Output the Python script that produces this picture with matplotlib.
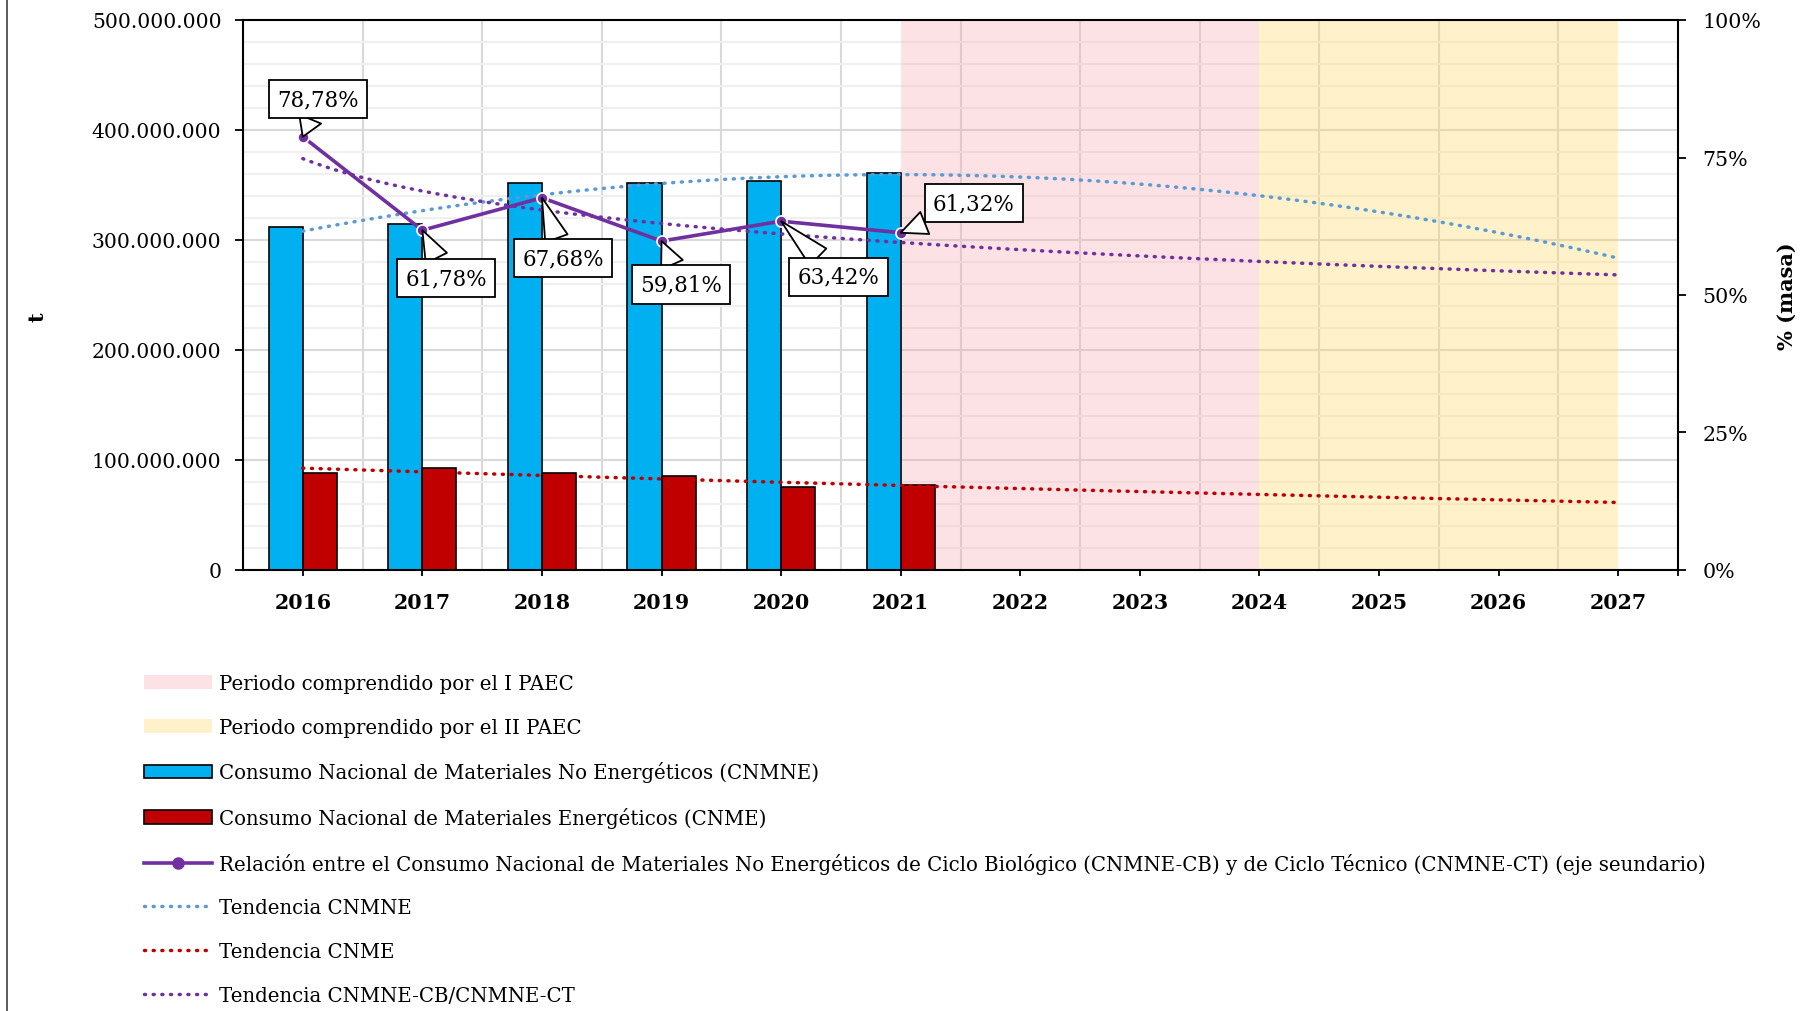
import numpy as np
import matplotlib
matplotlib.use("Agg")
import matplotlib.pyplot as plt
from matplotlib.ticker import MultipleLocator, FuncFormatter
from matplotlib.lines import Line2D

plt.rcParams['font.family'] = ['DejaVu Serif']
plt.rcParams['font.size'] = 15

# ---------------- data ----------------
years = ['2016', '2017', '2018', '2019', '2020', '2021',
         '2022', '2023', '2024', '2025', '2026', '2027']
obs_years = ['2016', '2017', '2018', '2019', '2020', '2021']
cnmne = [312.1e6, 314.5e6, 352.0e6, 351.5e6, 353.3e6, 360.9e6]
cnme = [88.2e6, 93.1e6, 87.9e6, 85.2e6, 75.8e6, 77.3e6]
ratio = [78.78, 61.78, 67.68, 59.81, 63.42, 61.32]
ratio_labels = ['78,78%', '61,78%', '67,68%', '59,81%', '63,42%', '61,32%']
paec1 = ('2021', '2024')
paec2 = ('2024', '2027')

# label box centres (layout), in (category index, % on secondary axis)
label_pos = [(0.13, 85.6), (1.20, 53.1), (2.18, 56.7),
             (3.16, 51.9), (4.48, 53.3), (5.61, 66.7)]

leg_labels = [
    'Periodo comprendido por el I PAEC',
    'Periodo comprendido por el II PAEC',
    'Consumo Nacional de Materiales No Energéticos (CNMNE)',
    'Consumo Nacional de Materiales Energéticos (CNME)',
    'Relación entre el Consumo Nacional de Materiales No Energéticos de Ciclo Biológico (CNMNE-CB) y de Ciclo Técnico (CNMNE-CT) (eje seundario)',
    'Tendencia CNMNE',
    'Tendencia CNME',
    'Tendencia CNMNE-CB/CNMNE-CT',
]

# ---------------- colours ----------------
C_BLUE = '#00B0F0'
C_RED = '#C00000'
C_PURPLE = '#7030A0'
C_TBLUE = '#5B9BD5'

# ---------------- figure ----------------
W, H = 1805, 1012
fig = plt.figure(figsize=(W / 100, H / 100), dpi=100)
ax = fig.add_axes([243 / W, 1 - 571 / H, (1678 - 243) / W, (571 - 21) / H])

x_all = np.arange(len(years))
x_obs = np.array([years.index(y) for y in obs_years])

ax.set_xlim(-0.5, len(years) - 0.5)
ax.set_ylim(0, 500e6)

# grid
ax.yaxis.set_major_locator(MultipleLocator(100e6))
ax.yaxis.set_minor_locator(MultipleLocator(20e6))
ax.grid(which='major', axis='y', color='#D9D9D9', lw=1.5, zorder=0.2)
ax.grid(which='minor', axis='y', color='#F0F0F0', lw=1.5, zorder=0.1)
ax.set_axisbelow(True)
for b in np.arange(0.5, len(years) - 1):
    ax.axvline(b, color='#D9D9D9', lw=1.5, zorder=0.2)

# shaded periods
sp1 = ax.axvspan(years.index(paec1[0]), years.index(paec1[1]),
                 facecolor='#F7A1AB', alpha=0.3, lw=0, zorder=0.8)
sp2 = ax.axvspan(years.index(paec2[0]), years.index(paec2[1]),
                 facecolor='#FFD966', alpha=0.35, lw=0, zorder=0.8)

# bars
bw = 0.285
b1 = ax.bar(x_obs - bw / 2, cnmne, width=bw, color=C_BLUE, edgecolor='black',
            lw=1.2, zorder=2)
b2 = ax.bar(x_obs + bw / 2, cnme, width=bw, color=C_RED, edgecolor='black',
            lw=1.2, zorder=2)

# trend lines (fitted on the observed data, like spreadsheet trendlines)
xt = np.linspace(0, len(years) - 1, 200)
p_blue = np.polyfit(x_obs, cnmne, 2)
t_blue = np.polyval(p_blue, xt)
p_red = np.polyfit(x_obs, np.log(cnme), 1)
t_red = np.exp(np.polyval(p_red, xt))
p_pur = np.polyfit(np.log(x_obs + 1), ratio, 1)
t_pur = np.polyval(p_pur, np.log(xt + 1))

dot = (0, (0.3, 2.2))
lt1, = ax.plot(xt, t_blue, color=C_TBLUE, lw=2.5, ls=dot,
               dash_capstyle='round', zorder=3)
lt2, = ax.plot(xt, t_red, color=C_RED, lw=2.5, ls=dot,
               dash_capstyle='round', zorder=3)

ax.set_xticks(x_all)
ax.set_xticklabels(years, fontweight='bold', fontsize=14.8)
ax.set_xticks([len(years) - 0.5], minor=True)
ax.tick_params(axis='x', which='both', length=4.5, width=1.3, pad=11,
               direction='out')
ax.tick_params(axis='y', which='major', length=5.5, width=1.3, pad=10,
               labelsize=14.6)
ax.tick_params(axis='y', which='minor', length=0)
ax.yaxis.set_major_formatter(
    FuncFormatter(lambda v, p: f"{int(round(v)):,}".replace(',', '.')))
for s in ['left', 'bottom', 'top']:
    ax.spines[s].set_linewidth(1.5)
    ax.spines[s].set_color('black')
ax.spines['right'].set_visible(False)

# secondary axis
ax2 = ax.twinx()
ax2.set_ylim(0, 100)
ax2.set_yticks([0, 25, 50, 75, 100])
ax2.set_yticklabels([f'{v}%' for v in [0, 25, 50, 75, 100]])
ax2.tick_params(axis='y', length=5.5, width=1.3, pad=12, labelsize=14.8)
for s in ['left', 'bottom', 'top']:
    ax2.spines[s].set_visible(False)
ax2.spines['right'].set_linewidth(1.5)
ax2.spines['right'].set_color('black')

lt3, = ax2.plot(xt, t_pur, color=C_PURPLE, lw=2.5, ls=dot,
                dash_capstyle='round', zorder=3)
lr, = ax2.plot(x_obs, ratio, color=C_PURPLE, lw=2.6, marker='o',
               markersize=8, mfc=C_PURPLE, mec='white', mew=1.2, zorder=4)

for i, (lbl, pos) in enumerate(zip(ratio_labels, label_pos)):
    ax2.annotate(lbl, xy=(x_obs[i], ratio[i]), xytext=pos, textcoords='data',
                 ha='center', va='center', fontsize=15.5, zorder=6,
                 bbox=dict(boxstyle='square,pad=0.38', fc='white', ec='black',
                           lw=1.3),
                 arrowprops=dict(arrowstyle='wedge,tail_width=1.1,shrink_factor=0.5',
                                 fc='white', ec='black', lw=1.3,
                                 shrinkA=0, shrinkB=0))

# axis titles
fig.text(38 / W, 1 - 317 / H, 't', rotation=90, ha='center', va='center',
         fontweight='bold', fontsize=15)
fig.text(1787 / W, 1 - 296 / H, '% (masa)', rotation=90, ha='center',
         va='center', fontweight='bold', fontsize=15)

# legend
leg_line = Line2D([], [], color=C_PURPLE, lw=2.6, marker='o', markersize=8,
                  mfc=C_PURPLE, mec=C_PURPLE)
handles = [sp1, sp2, b1, b2, leg_line, lt1, lt2, lt3]
fig.legend(handles, leg_labels, loc='upper left',
           bbox_to_anchor=(144 / W, 1 - 675 / H), frameon=False,
           borderpad=0, borderaxespad=0, handlelength=3.45, handleheight=0.68,
           handletextpad=0.37, labelspacing=1.25, fontsize=14.2)

# left border line of the original frame
fig.add_artist(Line2D([6.7 / W, 6.7 / W], [0, 1], transform=fig.transFigure,
                      color='#404040', lw=1.2))

fig.savefig('out.png', dpi=100)
